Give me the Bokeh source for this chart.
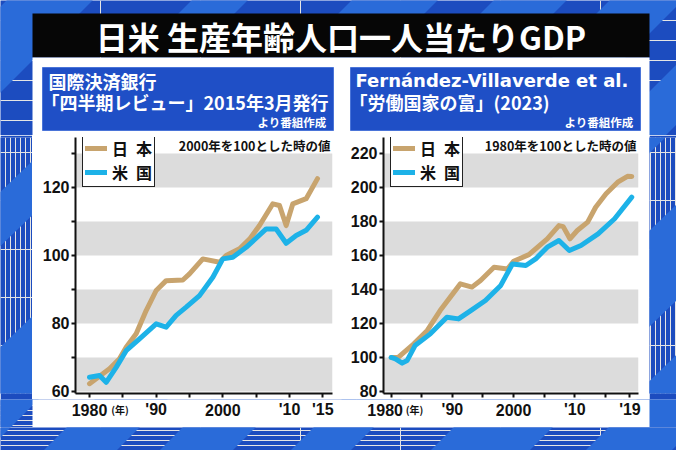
from bokeh.plotting import figure
from bokeh.layouts import column, row
from bokeh.models import Range1d, FixedTicker, Label, Legend, LegendItem, BoxAnnotation
from bokeh.core.properties import value
from bokeh.embed import file_html
from bokeh.resources import INLINE

# ---------------- data ----------------
# Left chart: BIS Quarterly Review (2000 = 100)
bis_jp_years = [1980, 1981.5, 1983, 1984.5, 1985.5, 1987, 1988.5, 1990, 1991.5, 1994, 1995, 1997,
                1999.5, 2000.5, 2002.5, 2004, 2005.5, 2007.5, 2008.5, 2009.5, 2010.5, 2012.5, 2014.2]
bis_jp_vals = [62.3, 64.5, 66.7, 69.6, 73, 77, 83.8, 89.7, 92.6, 92.8, 94.6, 99,
               98, 100, 102, 104.8, 108.8, 115.2, 114.7, 108.8, 115.2, 116.7, 122.6]
bis_us_years = [1980, 1981.5, 1982.5, 1984, 1985.5, 1987.5, 1990, 1991.5, 1993, 1994.5, 1996.5,
                1998.5, 2000, 2001.5, 2003.5, 2006.5, 2008, 2009.5, 2011, 2012.5, 2014.2]
bis_us_vals = [64.2, 64.7, 62.7, 67.1, 72, 75.5, 79.9, 78.9, 82.4, 84.8, 88.2,
               93.6, 99, 99.5, 102.4, 107.8, 107.8, 103.6, 105.9, 107.4, 111.3]

# Right chart: Fernandez-Villaverde et al. (1980 = 100)
fv_jp_years = [1980, 1981.2, 1983.7, 1985.9, 1988, 1991.3, 1993.2, 1994.6, 1996.8, 1999, 2000,
               2002.5, 2005.5, 2007.4, 2008.1, 2009.2, 2010.4, 2012.1, 2013.4, 2015.1, 2017, 2018.6, 2019.3]
fv_jp_vals = [100, 100.2, 108, 115.9, 127.6, 143.3, 141.4, 145.3, 153.1, 152, 156.6,
              160.5, 169.8, 177.6, 177, 169.8, 174.7, 179.6, 188.4, 196.3, 203.1, 206.6, 206.5]
fv_us_years = [1980, 1980.7, 1981.8, 1982.6, 1983.9, 1986.4, 1989.1, 1991, 1993, 1995.4, 1997.9,
               1999.8, 2002, 2003.6, 2005.5, 2007.4, 2009.1, 2011, 2013.8, 2016.5, 2019.3]
fv_us_vals = [100, 99.2, 96.7, 98.2, 107, 113.9, 123.7, 122.7, 127.6, 133.5, 142.4,
              155, 154.1, 158, 164.9, 168.8, 162.9, 165.9, 172.7, 181.6, 194.3]

bis_xticks = [1980, 1985, 1990, 1995, 2000, 2005, 2010, 2015]
bis_xlabels = ["1980", "", "'90", "", "2000", "", "'10", "'15"]
bis_yticks = [60, 70, 80, 90, 100, 110, 120, 130]
bis_ylabels = ["60", "", "80", "", "100", "", "120", ""]
bis_bands = [(60, 70), (80, 90), (100, 110), (120, 130)]

fv_xticks = [1980, 1985, 1990, 1995, 2000, 2005, 2010, 2015, 2019]
fv_xlabels = ["1980", "", "'90", "", "2000", "", "'10", "", "'19"]
fv_yticks = [80, 100, 120, 140, 160, 180, 200, 220]
fv_ylabels = ["80", "100", "120", "140", "160", "180", "200", "220"]
fv_bands = [(80, 100), (120, 140), (160, 180), (200, 220)]

title_text = "日米 生産年齢人口一人当たりGDP"
left_src = ["国際決済銀行", "「四半期レビュー」2015年3月発行", "より番組作成"]
right_src = ["Fernández-Villaverde et al.", "「労働国家の富」(2023)", "より番組作成"]
legend_labels = ["日\u2002本", "米\u2002国"]
left_note = "2000年を100とした時の値"
right_note = "1980年を100とした時の値"
year_unit = "(年)"

# ---------------- style ----------------
JP = "Noto Sans CJK JP"
NUM = "Liberation Sans"
BASE = "#1c4cbf"
LIGHT = "#2a6bd9"
TAN = "#c8a46e"
CYAN = "#1db2e8"
BAND = "#dcdcdc"
INK = "#111111"
STRIPES = [(6, 92), (191, 247), (351, 437), (493, 566), (609, 682), (740, 800), (880, 979), (1035, 1121)]

W, H = 676, 450
PANEL_L, PANEL_R, MID = 32, 649, 341
TOP_H, CHART_B, STRIP_B = 135, 399, 427
FRAME_T, FRAME_B = 137, 393
LABEL_Y = 409

# chart frames (page pixels) and their data ranges
L_FL, L_FR, L_XR, L_YR = 75, 332, (1977.9, 2016.45), (59.41, 134.7)
R_FL, R_FR, R_XR, R_YR = 383, 638, (1978.75, 2020.4), (78.82, 229.4)


def px_to_x(px, fl, fr, xr):
    return xr[0] + (px - fl) * (xr[1] - xr[0]) / (fr - fl)


def px_to_y(py, yr):
    return yr[0] + (FRAME_B - py) * (yr[1] - yr[0]) / (FRAME_B - FRAME_T)


def add_stripes(p, y0, y1, range_name="default"):
    xs, ys = [], []
    ya, yb = y0 - 5, y1 + 5
    for c1, c2 in STRIPES:
        xs.append([c1 - ya, c2 - ya, c2 - yb, c1 - yb])
        ys.append([ya, ya, yb, yb])
    p.patches(xs, ys, fill_color=LIGHT, line_color=None, x_range_name=range_name)


def deco_fig(x0, x1, y0, y1):
    p = figure(width=x1 - x0, height=y1 - y0, x_range=Range1d(x0, x1), y_range=Range1d(y1, y0),
               x_axis_location=None, y_axis_location=None, toolbar_location=None,
               output_backend="svg", min_border=0, outline_line_color=None,
               background_fill_color=BASE, border_fill_color=BASE)
    add_stripes(p, y0, y1)
    return p


def txt(p, x, y, s, size, align="left", color="white", font=JP, range_name="default", x_offset=0):
    p.text(x=x if isinstance(x, list) else [x], y=y if isinstance(y, list) else [y],
           text=s if isinstance(s, list) else [s], text_font=value(font),
           text_font_size=value(size), text_font_style="bold", text_color=color,
           text_align=align, text_baseline="middle", x_range_name=range_name, x_offset=x_offset)


# ---------------- top block ----------------
top = deco_fig(0, W, 0, TOP_H)
top.quad(left=[PANEL_L], right=[PANEL_R], top=[13], bottom=[57], fill_color="#060606", line_color=None)
top.quad(left=[PANEL_L], right=[PANEL_R], top=[57], bottom=[TOP_H + 5], fill_color="white", line_color=None)
top.quad(left=[42, 350], right=[333, 640], top=[67, 67], bottom=[130, 130],
         fill_color="#1f4fc6", line_color="#4a74d8", line_width=1)
txt(top, 340.5, 35, title_text, "32px", align="center")
txt(top, 48, 80, left_src[0], "18px")
txt(top, 41, 101, left_src[1], "18px")
txt(top, 326, 121, left_src[2], "11.5px", align="right")
txt(top, 355, 80, right_src[0], "18px", font="DejaVu Sans")
txt(top, 349, 101, right_src[1], "18px")
txt(top, 633, 121, right_src[2], "11.5px", align="right")

left_side = deco_fig(0, PANEL_L, TOP_H, CHART_B)
right_side = deco_fig(PANEL_R, W, TOP_H, CHART_B)
bottom = deco_fig(0, W, STRIP_B, H)


# ---------------- charts ----------------
def chart(fig_x0, fig_x1, fl, fr, xr, yr, xticks, yticks, ylabels, bands, jx, jy, ux, uy, note):
    p = figure(width=fig_x1 - fig_x0, height=CHART_B - TOP_H,
               x_range=Range1d(*xr), y_range=Range1d(*yr),
               toolbar_location=None, output_backend="svg",
               min_border_left=fl - fig_x0, min_border_right=fig_x1 - fr,
               min_border_top=FRAME_T - TOP_H, min_border_bottom=CHART_B - FRAME_B,
               background_fill_color="white", border_fill_color="white",
               outline_line_color=None)
    p.grid.visible = False

    for b0, b1 in bands:
        p.add_layout(BoxAnnotation(bottom=b0, top=b1, fill_color=BAND, fill_alpha=1,
                                   line_color=None, level="underlay"))
    rj = p.line(jx, jy, line_color=TAN, line_width=5, line_join="round", line_cap="round")
    ru = p.line(ux, uy, line_color=CYAN, line_width=5, line_join="round", line_cap="round")

    xa, ya = p.xaxis[0], p.yaxis[0]
    xa.ticker = FixedTicker(ticks=xticks)
    xa.major_label_overrides = {t: "" for t in xticks}
    xa.major_label_text_font_size = "0px"
    xa.major_label_standoff = 0
    ya.ticker = FixedTicker(ticks=yticks)
    ya.major_label_overrides = {t: l for t, l in zip(yticks, ylabels)}
    ya.major_label_text_font = NUM
    ya.major_label_text_font_size = "16px"
    ya.major_label_text_font_style = "bold"
    ya.major_label_text_color = INK
    ya.major_label_standoff = 2
    for ax in (xa, ya):
        ax.axis_line_width = 2
        ax.axis_line_color = INK
        ax.major_tick_line_width = 2
        ax.major_tick_line_color = INK
        ax.major_tick_in = 0
        ax.major_tick_out = 4
        ax.minor_tick_line_color = None

    leg = Legend(items=[LegendItem(label=legend_labels[0], renderers=[rj]),
                        LegendItem(label=legend_labels[1], renderers=[ru])],
                 location=(7, 206), orientation="vertical",
                 label_text_font=JP, label_text_font_size="16px", label_text_font_style="bold",
                 label_text_color=INK, label_height=14,
                 glyph_width=22, glyph_height=14, label_standoff=5, padding=2, spacing=-9,
                 border_line_color="#222222", border_line_width=1.5, border_line_alpha=1,
                 background_fill_color="white", background_fill_alpha=1)
    p.add_layout(leg)

    p.add_layout(Label(x=px_to_x(fr - 2, fl, fr, xr), y=px_to_y(145, yr), text=note,
                       text_align="right", text_baseline="middle", text_font=JP,
                       text_font_size="12.5px", text_font_style="bold", text_color=INK))
    return p


left = chart(PANEL_L, MID, L_FL, L_FR, L_XR, L_YR, bis_xticks, bis_yticks, bis_ylabels, bis_bands,
             bis_jp_years, bis_jp_vals, bis_us_years, bis_us_vals, left_note)
right = chart(MID, PANEL_R, R_FL, R_FR, R_XR, R_YR, fv_xticks, fv_yticks, fv_ylabels, fv_bands,
              fv_jp_years, fv_jp_vals, fv_us_years, fv_us_vals, right_note)

# ---------------- strip with the x tick labels (scales matching the two charts) ----------------
strip = figure(width=W, height=STRIP_B - CHART_B,
               x_range=Range1d(px_to_x(0, L_FL, L_FR, L_XR), px_to_x(W, L_FL, L_FR, L_XR)),
               y_range=Range1d(STRIP_B, CHART_B), x_axis_location=None, y_axis_location=None,
               toolbar_location=None, output_backend="svg", min_border=0,
               background_fill_color=BASE, border_fill_color=BASE, outline_line_color=None)
strip.extra_x_ranges = {
    "right": Range1d(px_to_x(0, R_FL, R_FR, R_XR), px_to_x(W, R_FL, R_FR, R_XR)),
    "px": Range1d(0, W),
}
add_stripes(strip, CHART_B, STRIP_B, "px")
strip.quad(left=[PANEL_L], right=[PANEL_R], top=[CHART_B - 2], bottom=[STRIP_B],
           fill_color="white", line_color=None, x_range_name="px")

for ticks, labels, rname, fl, fr, xr, unit_px, first_shift in (
        (bis_xticks, bis_xlabels, "default", L_FL, L_FR, L_XR, 119.5, 0),
        (fv_xticks, fv_xlabels, "right", R_FL, R_FR, R_XR, 414, -6)):
    lab_x = [t for t, l in zip(ticks, labels) if l]
    lab_t = [l for l in labels if l]
    offs = [first_shift] + [0] * (len(lab_x) - 1)
    txt(strip, lab_x, [LABEL_Y] * len(lab_x), lab_t, "16px", align="center", color=INK,
        font=NUM, range_name=rname, x_offset=offs)
    txt(strip, px_to_x(unit_px, fl, fr, xr), LABEL_Y, year_unit, "10px", align="center",
        color=INK, range_name=rname)

layout = column(top, row(left_side, left, right, right_side, spacing=0), strip, bottom, spacing=0)

open("out.html", "w").write(file_html(layout, INLINE))
